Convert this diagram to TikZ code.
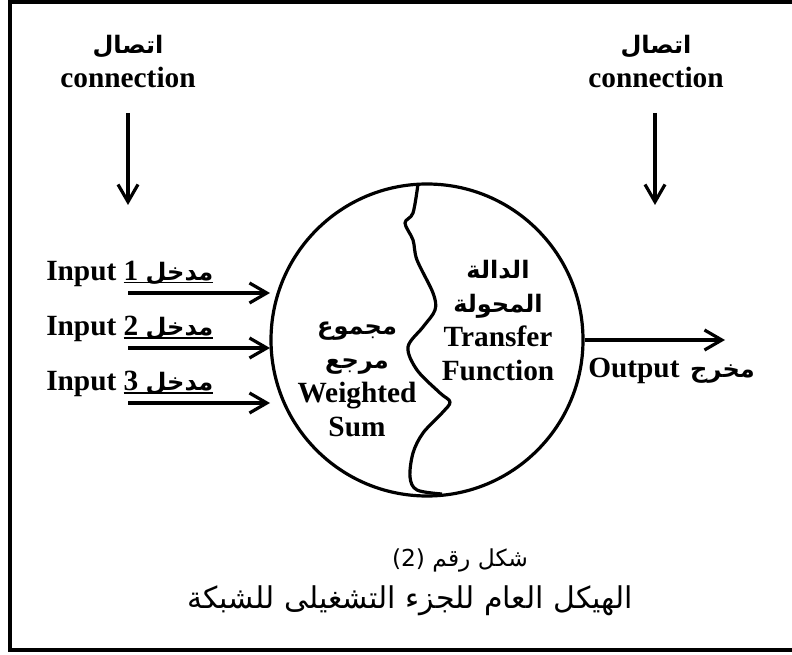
\documentclass[tikz,border=0pt]{standalone}
\usepackage{fontspec}
\setmainfont{Liberation Serif}
\newfontfamily\arabicfont[Script=Arabic, Scale=0.82]{DejaVu Sans}
\newfontfamily\captionfont[Script=Arabic]{DejaVu Sans}
\TeXXeTstate=1
\usetikzlibrary{arrows.meta, positioning}
% underline sitting on the baseline
\newcommand{\baseuline}[1]{\setbox0\hbox{#1}\rlap{\rule[-2.2pt]{\wd0}{1.3pt}}\box0}

\begin{document}
\begin{tikzpicture}[x=0.75pt, y=-0.75pt]
\tikzset{% styles of the picture
  txt/.style={font=\bfseries\fontsize{22}{25.5}\selectfont, align=center, inner sep=0pt},
  line/.style={draw, line width=2.4pt, -{Straight Barb[length=13pt, width=15pt]}},
  caption/.style={font=\captionfont, inner sep=0pt},
}
\useasboundingbox (0,0) rectangle (792,655);
\draw[line width=3pt] (800,2) -- (10,2) -- (10,650) -- (800,650);

% the neuron
\node[draw, circle, line width=2.4pt, minimum size=234pt, inner sep=0pt] (Neuron) at (427,340) {};
\draw[line width=2.4pt, line join=round] plot[smooth, tension=0.55] coordinates {
  (418,184) (413,213) (405,223) (413,240) (417,260) (433,293) (435,310)
  (423,327) (408,347) (417,370) (440,393) (450,402) (442,413) (423,433)
  (413,453) (410,477) (417,490) (442,494)};

\node[txt] (SumText) at (357,379)
  {{\arabicfont مجموع}\\{\arabicfont مرجع}\\Weighted\\Sum};
\node[txt] (TransferText) at (498,321)
  {{\arabicfont الدالة}\\{\arabicfont المحولة}\\Transfer\\Function};

% connections
\node[txt] (ConLeft) at (128,62) {{\arabicfont اتصال}\\connection};
\node[txt] (ConRight) at (656,62) {{\arabicfont اتصال}\\connection};
\coordinate (ConLeftTop) at (128,113);
\coordinate (ConLeftEnd) at (128,205);
\coordinate (ConRightTop) at (655,113);
\coordinate (ConRightEnd) at (655,205);
\draw[line] (ConLeftTop) -- (ConLeftEnd);
\draw[line] (ConRightTop) -- (ConRightEnd);

% inputs
\foreach \i/\y in {1/293, 2/348, 3/403} {
  \node[txt, anchor=west] (Input\i) at (46,\y-19)
    {Input \baseuline{\i\ {\arabicfont مدخل}}};
  \coordinate (InStart\i) at (128,\y);
  \coordinate (InEnd\i) at (270,\y);
  \draw[line] (InStart\i) -- (InEnd\i);
}

% output
\coordinate (OutEnd) at (725,340);
\draw[line] (Neuron.east) -- (OutEnd);
\node[txt, anchor=west] (OutText) at (588,371) {Output\hspace{8pt}{\arabicfont مخرج}};

% caption
\node[caption, font=\captionfont\fontsize{17.5}{20}\selectfont] (FigNum) at (460,560)
  {\beginR شكل رقم (2)\endR};
\node[caption, font=\captionfont\fontsize{22.5}{26}\selectfont] (FigTitle) at (410,601)
  {\beginR الهيكل العام للجزء التشغيلى للشبكة\endR};
\end{tikzpicture}
\end{document}
